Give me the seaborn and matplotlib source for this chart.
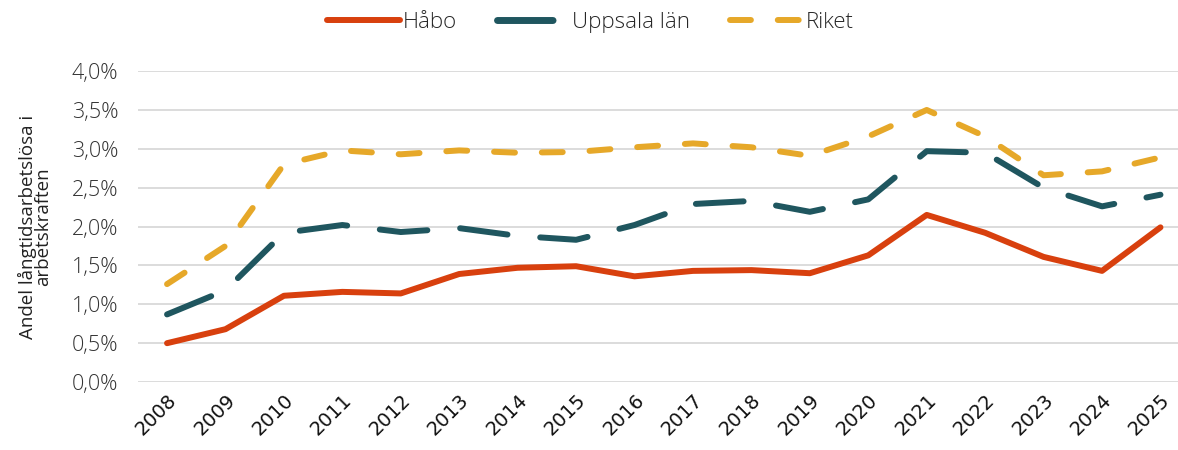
import pandas as pd
import matplotlib.pyplot as plt
import matplotlib.ticker as mticker
import seaborn as sns

# Data
years = [str(y) for y in range(2008, 2026)]
habo = [0.50, 0.68, 1.11, 1.16, 1.14, 1.39, 1.47, 1.49, 1.36, 1.43, 1.44, 1.40, 1.63, 2.15, 1.92, 1.61, 1.43, 1.99]
uppsala = [0.87, 1.18, 1.92, 2.02, 1.93, 1.98, 1.88, 1.83, 2.02, 2.29, 2.33, 2.19, 2.35, 2.97, 2.95, 2.50, 2.26, 2.41]
riket = [1.26, 1.75, 2.80, 2.98, 2.93, 2.98, 2.95, 2.96, 3.02, 3.07, 3.02, 2.91, 3.16, 3.50, 3.16, 2.66, 2.71, 2.89]
series_names = ["Håbo", "Uppsala län", "Riket"]

rows = []
for name, vals in zip(series_names, [habo, uppsala, riket]):
    for yr, v in zip(years, vals):
        rows.append({"År": yr, "Andel": v, "Serie": name})
data = pd.DataFrame(rows)

sns.set_theme(style="white")
plt.rcParams["font.family"] = ["Open Sans", "DejaVu Sans"]
plt.rcParams["font.weight"] = 300
plt.rcParams["lines.dash_capstyle"] = "round"
plt.rcParams["lines.solid_capstyle"] = "round"

palette = {"Håbo": "#D8400E", "Uppsala län": "#1F565F", "Riket": "#E6A829"}
dashes = {"Håbo": "", "Uppsala län": (8, 5.5), "Riket": (3.5, 4.5)}

fig = plt.figure(figsize=(11.78, 4.5), dpi=100)
ax = fig.add_axes([0.117, 0.151, 0.883, 0.691])
sns.lineplot(data=data, x="År", y="Andel", hue="Serie", style="Serie",
             palette=palette, dashes=dashes, linewidth=4.3, sort=False, ax=ax)

ax.set_ylim(0, 4.0)
ax.set_xlim(-0.5, 17.3)
ax.yaxis.set_major_locator(mticker.MultipleLocator(0.5))
ax.yaxis.set_major_formatter(mticker.FuncFormatter(lambda v, p: f"{v:.1f}%".replace(".", ",")))
ax.grid(axis="y", color="#D9D9D9", linewidth=1.3)
ax.set_axisbelow(True)
for s in ax.spines.values():
    s.set_visible(False)
ax.tick_params(axis="y", labelsize=15.5, colors="#333333", length=0, pad=14)
ax.tick_params(axis="x", labelsize=14, colors="#111111", length=0, pad=6)
plt.setp(ax.get_xticklabels(), rotation=45, ha="right", rotation_mode="anchor",
         family="DejaVu Sans", fontweight="normal")
ax.set_xlabel("")
ax.set_ylabel("Andel långtidsarbetslösa i\narbetskraften", fontsize=13.5,
              color="#222222", linespacing=0.8, labelpad=14)

handles, labels = ax.get_legend_handles_labels()
leg = ax.legend(handles, labels, loc="upper center", bbox_to_anchor=(0.435, 1.255), ncol=3,
                frameon=False, fontsize=16, handlelength=3.3, handletextpad=0.1,
                columnspacing=1.8)
# Uppsala legend key shows as one long dash followed by a gap in the original
leg.get_lines()[1].set_linestyle((0, (8.0, 6)))
leg.get_lines()[1].set_linewidth(5)

fig.savefig("out.png", dpi=100)
